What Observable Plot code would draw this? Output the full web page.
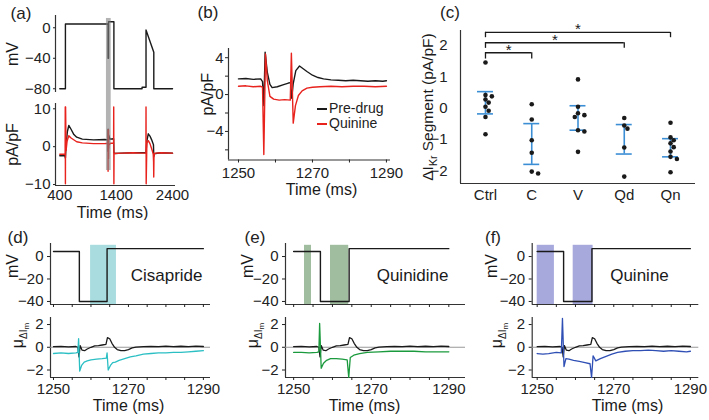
<!DOCTYPE html>
<html><head><meta charset="utf-8">
<script src="https://cdn.jsdelivr.net/npm/d3@7"></script>
<script src="https://cdn.jsdelivr.net/npm/@observablehq/plot@0.6"></script>
<style>
body{margin:0;background:#fff}
#fig{position:relative;width:709px;height:420px;background:#fff;font-family:"Liberation Sans",Arial,Helvetica,sans-serif;color:#222;overflow:hidden}
.plab{position:absolute;font-size:17px;transform:translate(-50%,-50%);white-space:nowrap}
.leg{position:absolute;font-size:14px;line-height:15px;white-space:nowrap}
.leg span.sw{display:inline-block;width:10px;height:0;border-top:2px solid;vertical-align:middle;margin-right:2px}
</style></head><body><div id="fig"></div>
<script>
// ---------------- data ----------------
// (a) voltage protocol [time ms, mV]
const aVoltage = [[400,-80],[500,-80],[500,5],[1257,5],[1257,-40],[1264.5,-40],[1264.5,8],[1360,8],[1360,-80],[1860,-80],[1860,-78],[1930,-78],[1930,-3],[2068,-32],[2068,-80],[2400,-80]];
// (a) current pA/pF
const aPreDrug = [[400,-2.4],[490,-2.4],[500,-3.0],[515,1.0],[535,4.0],[560,5.6],[600,4.6],[650,3.2],[700,2.5],[800,2.0],[1000,1.8],[1200,1.9],[1256,1.8],[1256.8,-1.2],[1257.2,4.6],[1259,0.8],[1264,1.3],[1264.4,-0.4],[1266.5,3.1],[1290,2.0],[1355,2.1],[1360,-1.5],[1370,-1.8],[1500,-1.7],[1700,-1.6],[1860,-1.6],[1930,-1.6],[1945,1.5],[1970,3.4],[2000,2.8],[2030,1.8],[2062,0.5],[2068,-2.5],[2075,-2.0],[2100,-1.8],[2200,-1.6],[2400,-1.7]];
const aQuinine = [[400,-2.0],[495,-2.0],[497,10.5],[500,-9.8],[503,10.5],[512,-1.0],[530,1.5],[560,2.9],[600,2.3],[700,1.3],[800,1.0],[1000,0.8],[1200,0.8],[1256,0.9],[1256.8,-6.5],[1257.3,4.4],[1259.5,-0.5],[1264,-0.6],[1264.3,4.5],[1264.9,-3.1],[1267,0.4],[1300,0.9],[1355,0.9],[1357,10.5],[1360,-9.8],[1363,-1.5],[1370,-1.8],[1500,-1.7],[1700,-1.6],[1860,-1.7],[1928,-1.7],[1930,10.5],[1933,-9.8],[1945,1.0],[1970,1.6],[2000,0.8],[2040,-1.0],[2058,-2.0],[2064,-4.0],[2067,-8.0],[2071,-3.0],[2080,-1.8],[2100,-1.7],[2200,-1.6],[2400,-1.7]];
const aSegmentWindow = [1228, 1312];

// (b) current pA/pF, 1250-1290 ms
const bPreDrug = [[1250,1.7],[1252,1.75],[1254,1.65],[1256,1.7],[1256.5,1.4],[1256.85,-1.2],[1257.2,4.6],[1257.8,2.4],[1258.5,1.1],[1259.1,0.75],[1260.5,0.85],[1262,1.05],[1263.5,1.25],[1264.1,1.3],[1264.4,-0.4],[1264.8,1.2],[1265.5,2.6],[1266.5,3.1],[1267.5,2.8],[1268.5,2.5],[1270,2.1],[1271.5,1.85],[1273,1.7],[1275,1.6],[1277,1.55],[1279,1.5],[1281,1.55],[1283,1.5],[1285,1.45],[1287,1.5],[1289,1.45],[1290,1.5]];
const bQuinine = [[1250,0.9],[1252,0.95],[1254,0.85],[1256,0.9],[1256.5,0.8],[1256.85,-6.5],[1257.3,4.4],[1257.8,1.5],[1258.5,-0.2],[1259.5,-0.5],[1261,-0.6],[1262.5,-0.55],[1264,-0.6],[1264.3,4.5],[1264.8,-3.1],[1265.4,-1.2],[1266.2,-0.1],[1267.2,0.4],[1268.5,0.7],[1270,0.8],[1272,0.85],[1275,0.9],[1278,0.85],[1281,0.9],[1284,0.9],[1287,0.85],[1290,0.9]];
const bLegend = ["Pre-drug", "Quinine"];

// (c) ΔIKr segment, pA/pF
const groups = ["Ctrl", "C", "V", "Qd", "Qn"];
const ctrlVals = [1.46, 0.42, 0.38, 0.28, 0.18, 0.05, -0.08, -0.28, -0.83];
const cisVals = [0.13, -0.36, -1.02, -1.42, -2.02, -2.08];
const verVals = [0.92, 0.05, -0.16, -0.22, -0.28, -0.70, -0.74, -1.39];
const qdVals = [-0.31, -0.55, -0.65, -1.25, -2.18];
const qnVals = [-0.46, -0.93, -1.02, -1.12, -1.24, -1.38, -1.55, -1.62, -2.04];
const errLow = [-0.18, -1.79, -0.70, -1.46, -1.55];
const errHigh = [0.53, -0.49, 0.08, -0.52, -0.97];
const sigTargets = ["C", "Qd", "Qn"];
const sigBarY = [1.77, 2.09, 2.42];
const sigFootY = [1.57, 1.91, 2.25];

// (d)-(f) voltage step protocol [time, mV] (step-after)
const stepVoltage = [[1250,4.5],[1256.9,-40],[1264.3,7],[1290,7]];
// control mean current (black), shared
const ctrlMu = [[1250,0.05],[1252,0.08],[1254,0.04],[1256,0.07],[1256.5,0.0],[1256.8,-0.85],[1257.1,0.15],[1257.6,-0.25],[1258.3,-0.3],[1259,-0.15],[1260,0.0],[1261,0.12],[1262,0.15],[1263,0.2],[1264,0.25],[1264.4,0.85],[1265,0.75],[1265.6,0.35],[1266.3,0.0],[1267,-0.2],[1268,-0.3],[1269,-0.3],[1270,-0.2],[1271,-0.05],[1272,0.02],[1274,0.05],[1276,0.08],[1278,0.05],[1280,0.1],[1282,0.06],[1284,0.09],[1286,0.05],[1288,0.1],[1290,0.07]];
const cisMu = [[1250,-0.55],[1252,-0.5],[1254,-0.55],[1256,-0.5],[1256.5,-0.45],[1256.7,0.75],[1257,-2.1],[1257.5,-1.6],[1258.2,-1.3],[1259,-1.2],[1260,-1.1],[1261.5,-1.05],[1263,-1.0],[1264.1,-0.95],[1264.3,-0.5],[1264.6,-2.0],[1265.2,-1.6],[1265.8,-1.35],[1266.5,-1.3],[1267.5,-1.15],[1269,-1.0],[1270.5,-0.85],[1272,-0.75],[1274,-0.6],[1276,-0.55],[1278,-0.5],[1280,-0.5],[1282,-0.45],[1284,-0.45],[1286,-0.4],[1288,-0.35],[1290,-0.3]];
const qdMu = [[1250,-0.45],[1252,-0.45],[1254,-0.5],[1256,-0.45],[1256.5,-0.4],[1256.7,2.1],[1257.1,-1.85],[1257.7,-1.4],[1258.5,-1.15],[1259.5,-1.0],[1261,-1.0],[1262.5,-1.05],[1263.8,-1.1],[1264.2,-2.65],[1264.6,-0.9],[1265.5,-0.7],[1267,-0.55],[1269,-0.45],[1272,-0.4],[1275,-0.35],[1278,-0.35],[1281,-0.35],[1284,-0.4],[1287,-0.4],[1290,-0.4]];
const qnMu = [[1250,-0.55],[1251.5,-0.6],[1253,-0.55],[1255,-0.45],[1256.3,-0.5],[1256.6,2.55],[1257,-1.7],[1257.5,-1.0],[1258.3,-1.05],[1259.5,-1.15],[1261,-1.25],[1262.5,-1.35],[1263.8,-1.45],[1264.2,-2.65],[1264.6,-0.75],[1265.3,-1.2],[1266.5,-1.0],[1268,-0.8],[1269.5,-0.6],[1271,-0.45],[1273,-0.35],[1275,-0.3],[1277,-0.3],[1279,-0.25],[1281,-0.3],[1283,-0.35],[1285,-0.3],[1287,-0.35],[1289,-0.4],[1290,-0.35]];
const dBands = [[1259.9, 1266.8]];
const eBands = [[1252.8, 1254.6], [1259.5, 1264.2]];
const fBands = [[1250.0, 1254.5], [1259.4, 1264.6]];
const drugNames = ["Cisapride", "Quinidine", "Quinine"];

// ---------------- drawing ----------------
const FONT = '"Liberation Sans", Arial, Helvetica, sans-serif';
const fig = document.getElementById("fig");
const fmt = d3.format("d");
const AX = "#333", BLK = "#1a1a1a", RED = "#e8221d", EBAR = "#3b8ed4";
const X = d => d[0], Y = d => d[1];

function panel(o) {
  const [L, T, W, H] = o.box, [fl, ft, fr, fb] = o.frame;
  const svg = Plot.plot({
    width: W, height: H,
    marginLeft: fl - L, marginTop: ft - T, marginRight: L + W - fr, marginBottom: T + H - fb,
    x: o.x, y: o.y,
    style: {fontSize: "15px", fontFamily: FONT, background: "transparent", overflow: "hidden", color: "#222"},
    marks: o.marks
  });
  svg.style.position = "absolute"; svg.style.left = L + "px"; svg.style.top = T + "px";
  fig.appendChild(svg);
  return svg;
}
function label(text, cx, cy) {
  const d = document.createElement("div"); d.className = "plab"; d.textContent = text;
  d.style.left = cx + "px"; d.style.top = cy + "px"; fig.appendChild(d);
}
function subscript(svg, key, parts) {
  d3.select(svg).selectAll("text").filter(function () { return this.textContent === key; }).each(function () {
    const t = d3.select(this); t.text(null);
    for (const p of parts) {
      const s = t.append("tspan").text(p.text);
      if (p.size) s.attr("font-size", p.size);
      if (p.dy) s.attr("dy", p.dy);
    }
  });
}
const yTitle = (txt, dx, dy = 0, fs = 16) => Plot.text([txt], {text: d => d, frameAnchor: "left", textAnchor: "middle", lineAnchor: "middle", rotate: -90, dx, dy, fontSize: fs, fill: BLK});
const xTitle = (dy, dx = 0) => Plot.text(["Time (ms)"], {text: d => d, frameAnchor: "bottom", textAnchor: "middle", lineAnchor: "middle", dy, dx, fontSize: 16, fill: BLK});

// ---- (a) ----
const aX = [324, 2453];
const aTopY = [-84.9, 16.1], aBotY = [-10.25, 11.4];
panel({box: [0, 0, 190, 97], frame: [55, 15, 175, 92],
  x: {domain: aX, axis: null}, y: {domain: aTopY},
  marks: [
    Plot.ruleX([aX[0]], {stroke: AX, strokeWidth: 1.2}),
    Plot.axisY({ticks: [0, -40, -80], tickSize: 2, tickPadding: 3, tickFormat: fmt, label: null}),
    Plot.line(aVoltage, {x: X, y: Y, stroke: BLK, strokeWidth: 1.4}),
    Plot.rect([aSegmentWindow], {x1: X, x2: Y, y1: -300, y2: 12.2, fill: "#808080", fillOpacity: 0.6}),
    yTitle("mV", -43)
  ]});
panel({box: [0, 97, 190, 123], frame: [55, 103, 175, 185],
  x: {domain: aX}, y: {domain: aBotY},
  marks: [
    Plot.ruleX([aX[0]], {stroke: AX, strokeWidth: 1.2}),
    Plot.ruleY([aBotY[0]], {stroke: AX, strokeWidth: 1.2}),
    Plot.axisY({ticks: [10, 0, -10], tickSize: 2, tickPadding: 3, tickFormat: fmt, label: null}),
    Plot.axisX({ticks: [400, 1400, 2400], tickSize: 0, tickPadding: 4, tickFormat: fmt, label: null}),
    Plot.line(aPreDrug, {x: X, y: Y, stroke: BLK, strokeWidth: 1.4}),
    Plot.line(aQuinine, {x: X, y: Y, stroke: RED, strokeWidth: 1.4}),
    Plot.rect([aSegmentWindow], {x1: X, x2: Y, y1: -6.3, y2: 100, fill: "#808080", fillOpacity: 0.6}),
    yTitle("pA/pF", -43),
    xTitle(27, -3)
  ]});
label("(a)", 21, 14);

// ---- (b) ----
const bX = [1247.3, 1291.1], bY = [-7.1, 5];
panel({box: [190, 20, 215, 185], frame: [228, 48, 390, 159.5],
  x: {domain: bX}, y: {domain: bY},
  marks: [
    Plot.ruleX([bX[0]], {stroke: AX, strokeWidth: 1.2}),
    Plot.ruleY([bY[0]], {stroke: AX, strokeWidth: 1.2}),
    Plot.axisY({ticks: [4, 2, 0, -2, -4, -6], tickSize: 3, tickPadding: 2, tickFormat: d => d % 4 === 0 ? fmt(d) : "", label: null}),
    Plot.axisX({ticks: d3.range(1250, 1291, 10), tickSize: 3, tickPadding: 4, tickFormat: d => (d - 1250) % 20 === 0 ? fmt(d) : "", label: null}),
    Plot.line(bPreDrug, {x: X, y: Y, stroke: BLK, strokeWidth: 1.4}),
    Plot.line(bQuinine, {x: X, y: Y, stroke: RED, strokeWidth: 1.4}),
    yTitle("pA/pF", -21, -10),
    xTitle(30, 12)
  ]});
label("(b)", 208, 13);
{
  const lg = document.createElement("div"); lg.className = "leg";
  lg.style.left = "317px"; lg.style.top = "101px";
  lg.innerHTML = bLegend.map((n, i) => `<div><span class="sw" style="border-color:${i ? RED : BLK}"></span>${n}</div>`).join("");
  fig.appendChild(lg);
}

// ---- (c) ----
const cX = [-0.54, 4.54], cY = [-2.40, 2.48];
const cPxPerUnit = 31.35, cPxPerCat = 46.4;
function dodge(vals) {
  const order = d3.range(vals.length).sort((a, b) => vals[b] - vals[a]);
  const placed = [], off = [];
  for (const i of order) {
    const y = vals[i] * cPxPerUnit;
    for (const k of [0, 1, -1, 2, -2, 3, -3]) {
      const x = k * 3.2;
      if (placed.every(p => Math.hypot(p.x - x, p.y - y) >= 4.2)) { off[i] = x; placed.push({x, y}); break; }
    }
    if (off[i] === undefined) off[i] = 0;
  }
  return off;
}
const cDots = [ctrlVals, cisVals, verVals, qdVals, qnVals].flatMap((vals, g) => {
  const off = dodge(vals);
  return vals.map((v, j) => ({g, v, x: g + off[j] / cPxPerCat}));
});
const cErr = groups.map((name, i) => ({i, lo: errLow[i], hi: errHigh[i]}));
const cap = 8 / cPxPerCat;
const cSig = sigTargets.map((t, k) => ({idx: groups.indexOf(t), bar: sigBarY[k], foot: sigFootY[k]}));
const cSvg = panel({box: [405, 15, 304, 195], frame: [460, 30, 695, 183],
  x: {domain: cX}, y: {domain: cY},
  marks: [
    Plot.ruleX([cX[0]], {stroke: AX, strokeWidth: 1.2}),
    Plot.ruleY([cY[0]], {stroke: AX, strokeWidth: 1.2}),
    Plot.axisY({ticks: [2, 1, 0, -1, -2], tickSize: 0, tickPadding: 13, tickFormat: fmt, label: null}),
    Plot.axisX({ticks: [0, 1, 2, 3, 4], tickSize: 0, tickPadding: 6, tickFormat: i => groups[i], label: null}),
    Plot.ruleX(cErr, {x: "i", y1: "lo", y2: "hi", stroke: EBAR, strokeWidth: 1.6}),
    Plot.ruleY(cErr, {x1: d => d.i - cap, x2: d => d.i + cap, y: "lo", stroke: EBAR, strokeWidth: 1.6}),
    Plot.ruleY(cErr, {x1: d => d.i - cap, x2: d => d.i + cap, y: "hi", stroke: EBAR, strokeWidth: 1.6}),
    Plot.dot(cDots, {x: "x", y: "v", r: 2.3, fill: BLK, stroke: null}),
    Plot.ruleY(cSig, {x1: 0, x2: "idx", y: "bar", stroke: BLK, strokeWidth: 1.3}),
    Plot.ruleX(cSig, {x: 0, y1: "foot", y2: "bar", stroke: BLK, strokeWidth: 1.3}),
    Plot.ruleX(cSig, {x: "idx", y1: "foot", y2: "bar", stroke: BLK, strokeWidth: 1.3}),
    Plot.text(cSig, {x: d => d.idx / 2, y: "bar", text: () => "*", dy: -3, fontSize: 15, fill: BLK}),
    yTitle("ΔIKr Segment (pA/pF)", -32, 0, 15.5)
  ]});
subscript(cSvg, "ΔIKr Segment (pA/pF)", [{text: "ΔI"}, {text: "Kr", size: 10.5, dy: 4}, {text: " Segment (pA/pF)", dy: -4}]);
label("(c)", 450, 13);

// ---- (d)-(f) ----
const topY = [-42.7, 11.6], botY = [-2.66, 2.62];
function drugPanel(c) {
  const [fl, fr] = c.fx;
  panel({box: [c.L, 235, c.W, 80], frame: [fl, 243, fr, 304],
    x: {domain: c.xd}, y: {domain: topY},
    marks: [
      Plot.rect(c.bands, {x1: X, x2: Y, y1: topY[0], y2: 10, fill: c.band}),
      Plot.ruleX([c.xd[0]], {stroke: AX, strokeWidth: 1.2}),
      Plot.ruleY([topY[0]], {stroke: AX, strokeWidth: 1.2}),
      Plot.axisY({ticks: [0, -20, -40], tickSize: 3, tickPadding: 4, tickFormat: fmt, label: null}),
      Plot.axisX({ticks: d3.range(1250, 1291, 5), tickSize: 3, tickFormat: () => "", label: null}),
      Plot.line(stepVoltage, {x: X, y: Y, curve: "step-after", stroke: BLK, strokeWidth: 1.4}),
      Plot.text([c.name], {text: d => d, frameAnchor: "right", textAnchor: "end", lineAnchor: "middle", dx: c.ndx, dy: 2, fontSize: 17, fill: BLK}),
      yTitle("mV", c.ydx, -8)
    ]});
  const s = panel({box: [c.L, 307, c.W, 113], frame: [fl, 317, fr, 377],
    x: {domain: c.xd}, y: {domain: botY},
    marks: [
      Plot.ruleX([c.xd[0]], {stroke: AX, strokeWidth: 1.2}),
      Plot.ruleY([botY[0]], {stroke: AX, strokeWidth: 1.2}),
      Plot.axisY({ticks: [2, 0, -2], tickSize: 3, tickPadding: 4, tickFormat: fmt, label: null}),
      Plot.axisX({ticks: d3.range(1250, 1291, 5), tickSize: 3, tickPadding: 3, tickFormat: d => (d - 1250) % 20 === 0 ? fmt(d) : "", label: null}),
      Plot.ruleY([0], {stroke: "#999", strokeWidth: 1.2}),
      Plot.line(ctrlMu, {x: X, y: Y, stroke: BLK, strokeWidth: 1.3}),
      Plot.line(c.data, {x: X, y: Y, stroke: c.color, strokeWidth: 1.3}),
      yTitle("μΔIm", c.ydx + 5, -12),
      xTitle(28, c.tdx)
    ]});
  subscript(s, "μΔIm", [{text: "μ"}, {text: "ΔI", size: 10, dy: 4}, {text: "m", size: 8, dy: 2}]);
}
drugPanel({L: 0, W: 235, fx: [50, 210], xd: [1249.2, 1291.9], bands: dBands, band: "#a8dcdf", color: "#2bbfc4", data: cisMu, name: drugNames[0], ndx: -8, ydx: -38, tdx: -2});
drugPanel({L: 235, W: 235, fx: [285, 465], xd: [1247.9, 1294.3], bands: eBands, band: "#a0bda0", color: "#1a9a3c", data: qdMu, name: drugNames[1], ndx: -17, ydx: -38, tdx: -11});
drugPanel({L: 470, W: 239, fx: [531.7, 698.3], xd: [1248.7, 1292.2], bands: fBands, band: "#a7a9dd", color: "#2f4fb5", data: qnMu, name: drugNames[2], ndx: -30, ydx: -40, tdx: 12});
label("(d)", 18, 238);
label("(e)", 255, 238);
label("(f)", 493, 238);
</script>
</body></html>
